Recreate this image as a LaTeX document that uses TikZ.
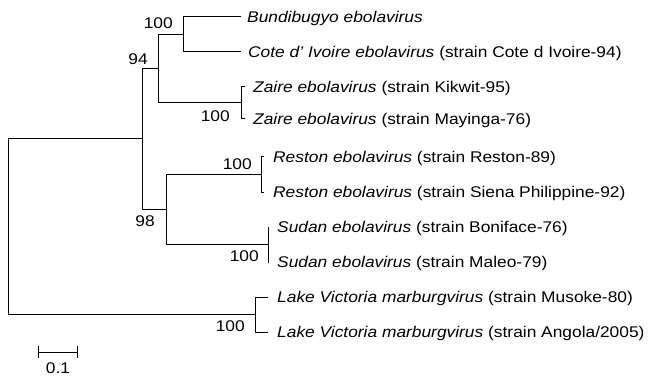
\documentclass[tikz,border=0pt]{standalone}
\usepackage{fontspec}
\setmainfont[FakeStretch=1.12]{Liberation Sans}
\usetikzlibrary{arrows.meta}
\begin{document}
\begin{tikzpicture}[x=1pt,y=-1pt,
    branch/.style={line width=1pt},
    bootup/.style={anchor=base east,inner sep=0pt,font=\fontsize{15.5}{18}\selectfont},
    bootdown/.style={anchor=north east,inner sep=0pt,font=\fontsize{15.5}{18}\selectfont},
    taxon/.style={anchor=base west,inner sep=0pt,font=\fontsize{15.5}{18}\selectfont}]
        \useasboundingbox (0,0) rectangle (648,377);
        % internal nodes
        \coordinate (root) at (8,226.5);
        \coordinate (ebo) at (142,139);
        \coordinate (n94) at (158,69);
        \coordinate (bdcv) at (183,34.5);
        \coordinate (zebov) at (241,103);
        \coordinate (n98) at (166,209);
        \coordinate (restv) at (261,174.5);
        \coordinate (sudv) at (268,244.5);
        \coordinate (marv) at (255,314.5);
        % tips
        \coordinate (bdbv) at (241,17);
        \coordinate (civ) at (241,52);
        \coordinate (kik) at (245,87);
        \coordinate (may) at (245,119);
        \coordinate (rest) at (264,157);
        \coordinate (siena) at (264,192);
        \coordinate (boni) at (268.5,227);
        \coordinate (maleo) at (268.5,262);
        \coordinate (muso) at (268,297);
        \coordinate (ango) at (268,332);
        % branches
        \draw[branch] (root) |- (ebo);
        \draw[branch] (root) |- (marv);
        \draw[branch] (ebo) |- (n94);
        \draw[branch] (ebo) |- (n98);
        \draw[branch] (n94) |- (bdcv);
        \draw[branch] (n94) |- (zebov);
        \draw[branch] (bdcv) |- (bdbv);
        \draw[branch] (bdcv) |- (civ);
        \draw[branch] (zebov) |- (kik);
        \draw[branch] (zebov) |- (may);
        \draw[branch] (n98) |- (restv);
        \draw[branch] (n98) |- (sudv);
        \draw[branch] (restv) |- (rest);
        \draw[branch] (restv) |- (siena);
        \draw[branch] (sudv) |- (boni);
        \draw[branch] (sudv) |- (maleo);
        \draw[branch] (marv) |- (muso);
        \draw[branch] (marv) |- (ango);
        % bootstrap values
        \node[bootup] at (173,29) {100};
        \node[bootup] at (148,65) {94};
        \node[bootdown] at (230,110) {100};
        \node[bootup] at (252,169) {100};
        \node[bootdown] at (155,215) {98};
        \node[bootdown] at (259,250) {100};
        \node[bootdown] at (245,320) {100};
        % taxa
        \node[taxon] (lbdbv) at (247,22.5) {\itshape Bundibugyo ebolavirus};
        \node[taxon] (lciv) at (248,57.5) {\itshape Cote d' Ivoire ebolavirus\upshape{} (strain Cote d Ivoire-94)};
        \node[taxon] (lkik) at (253,92.5) {\itshape Zaire ebolavirus\upshape{} (strain Kikwit-95)};
        \node[taxon] (lmay) at (253,125) {\itshape Zaire ebolavirus\upshape{} (strain Mayinga-76)};
        \node[taxon] (lrest) at (273,162.5) {\itshape Reston ebolavirus\upshape{} (strain Reston-89)};
        \node[taxon] (lsiena) at (273,197.5) {\itshape Reston ebolavirus\upshape{} (strain Siena Philippine-92)};
        \node[taxon] (lboni) at (277,232.5) {\itshape Sudan ebolavirus\upshape{} (strain Boniface-76)};
        \node[taxon] (lmaleo) at (277,267.5) {\itshape Sudan ebolavirus\upshape{} (strain Maleo-79)};
        \node[taxon] (lmuso) at (277,302.5) {\itshape Lake Victoria marburgvirus\upshape{} (strain Musoke-80)};
        \node[taxon] (lango) at (277,337.5) {\itshape Lake Victoria marburgvirus\upshape{} (strain Angola/2005)};
        % scale bar
        \coordinate (sbl) at (38,352);
        \coordinate (sbr) at (78,352);
        \draw[branch,{Bar[width=12pt]}-{Bar[width=12pt]}] (sbl) -- (sbr);
        \node[inner sep=0pt,font=\fontsize{15.5}{18}\selectfont] (sblab) at (58,368) {0.1};
\end{tikzpicture}
\end{document}
